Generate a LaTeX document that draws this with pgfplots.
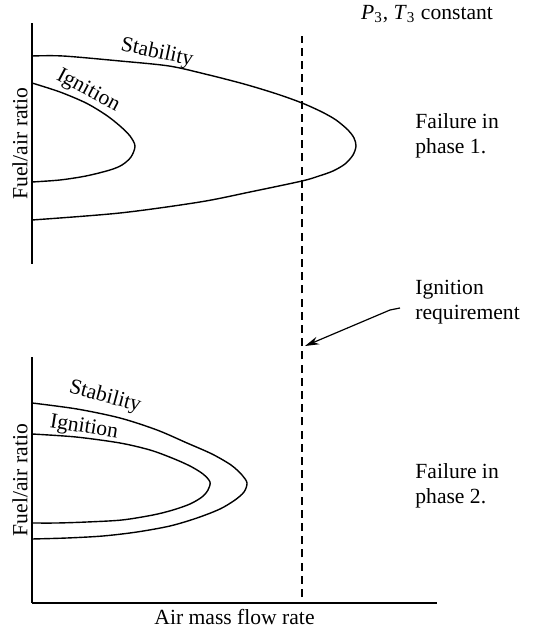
\documentclass[border=0pt]{standalone}
\usepackage{fontspec}
\setmainfont{Liberation Serif}
\usepackage{pgfplots}
\pgfplotsset{compat=1.18}
\usetikzlibrary{arrows.meta}

% one pixel of the reference = 0.5pt; x = px-32, y = bottom of panel - py
\pgfplotsset{
  loop/.style={
    x=0.5pt, y=0.5pt, xmin=0, xmax=405, ymin=0,
    enlargelimits=false, clip=false,
    xtick=\empty, ytick=\empty,
    axis line style={line width=0.7pt, -},
    ylabel={Fuel/air ratio},
    ylabel style={at={(axis description cs:0,0.5)}, anchor=south, inner sep=2pt},
  },
  curve/.style={black, line width=0.7pt, smooth, no marks},
}

\begin{document}
\fontsize{10.8}{12.5}\selectfont
\begin{tikzpicture}[lbl/.style={inner sep=1pt}]

% phase 2 (lower panel)
\begin{axis}[loop, ymax=246,
  axis x line*=bottom, axis y line*=left,
  xlabel={Air mass flow rate},
  xlabel style={at={(axis description cs:0.5,0)}, anchor=north, inner sep=3pt},
]
\addplot[curve] coordinates {
  (0,200) (45,194) (88,185) (125,173) (155,160) (180,149) (199,138)
  (210,128) (215,120) (212,111) (203,103) (188,94) (165,85) (138,77)
  (105,71) (71,67) (35,65) (0,64)};
\addplot[curve] coordinates {
  (0,169) (44,166) (88,160) (118,153) (140,145) (158,137) (171,129)
  (178,121) (176,113) (170,106) (158,99) (141,93) (121,88) (90,83)
  (55,81) (25,80) (0,80)};
% ignition requirement
\addplot[black, line width=0.7pt, dash pattern=on 4pt off 2.6pt] coordinates {(270,6) (270,567)};
\draw[line width=0.6pt, -{Stealth[length=7pt,width=4pt]}]
  (axis cs:368,295) -- (axis cs:358,293) -- (axis cs:273,257);
\node[anchor=west, align=left, inner sep=0pt] at (axis cs:383,300.5) {Ignition\\requirement};
\node[anchor=west, align=left, inner sep=0pt] at (axis cs:383,117.5) {Failure in\\phase 2.};
\node[lbl, rotate=-15] at (axis cs:73,206) {Stability};
\node[lbl, rotate=-9] at (axis cs:52,175) {Ignition};
\end{axis}

% phase 1 (upper panel)
\begin{axis}[loop, ymax=241, at={(0,169.5pt)},
  axis x line=none, axis y line*=left,
]
\addplot[curve] coordinates {
  (0,208) (31,208) (88,203) (137,198) (173,190) (212,180) (245,170)
  (270,161) (290,152) (304,144) (316,134) (322,126) (324,118)
  (321,109) (313,100) (301,93) (287,88) (270,83) (218,72) (168,62)
  (88,51) (0,44)};
\addplot[curve] coordinates {
  (0,181) (28,172) (54,161) (74,149) (88,138) (98,128) (103,118)
  (99,107) (90,99) (78,94) (54,88) (28,84) (0,82)};
\node[anchor=west, align=left, inner sep=0pt] at (axis cs:383,128.5) {Failure in\\phase 1.};
\node[lbl, rotate=-12] at (axis cs:125,211) {Stability};
\node[lbl, rotate=-28] at (axis cs:56,173) {Ignition};
\node at (axis cs:395,250) {\textit{P}\textsubscript{3}, \textit{T}\textsubscript{3} constant};
\end{axis}

\pgfresetboundingbox
\path[use as bounding box] (-16pt,-14pt) rectangle (250.5pt,301.5pt);
\end{tikzpicture}
\end{document}
